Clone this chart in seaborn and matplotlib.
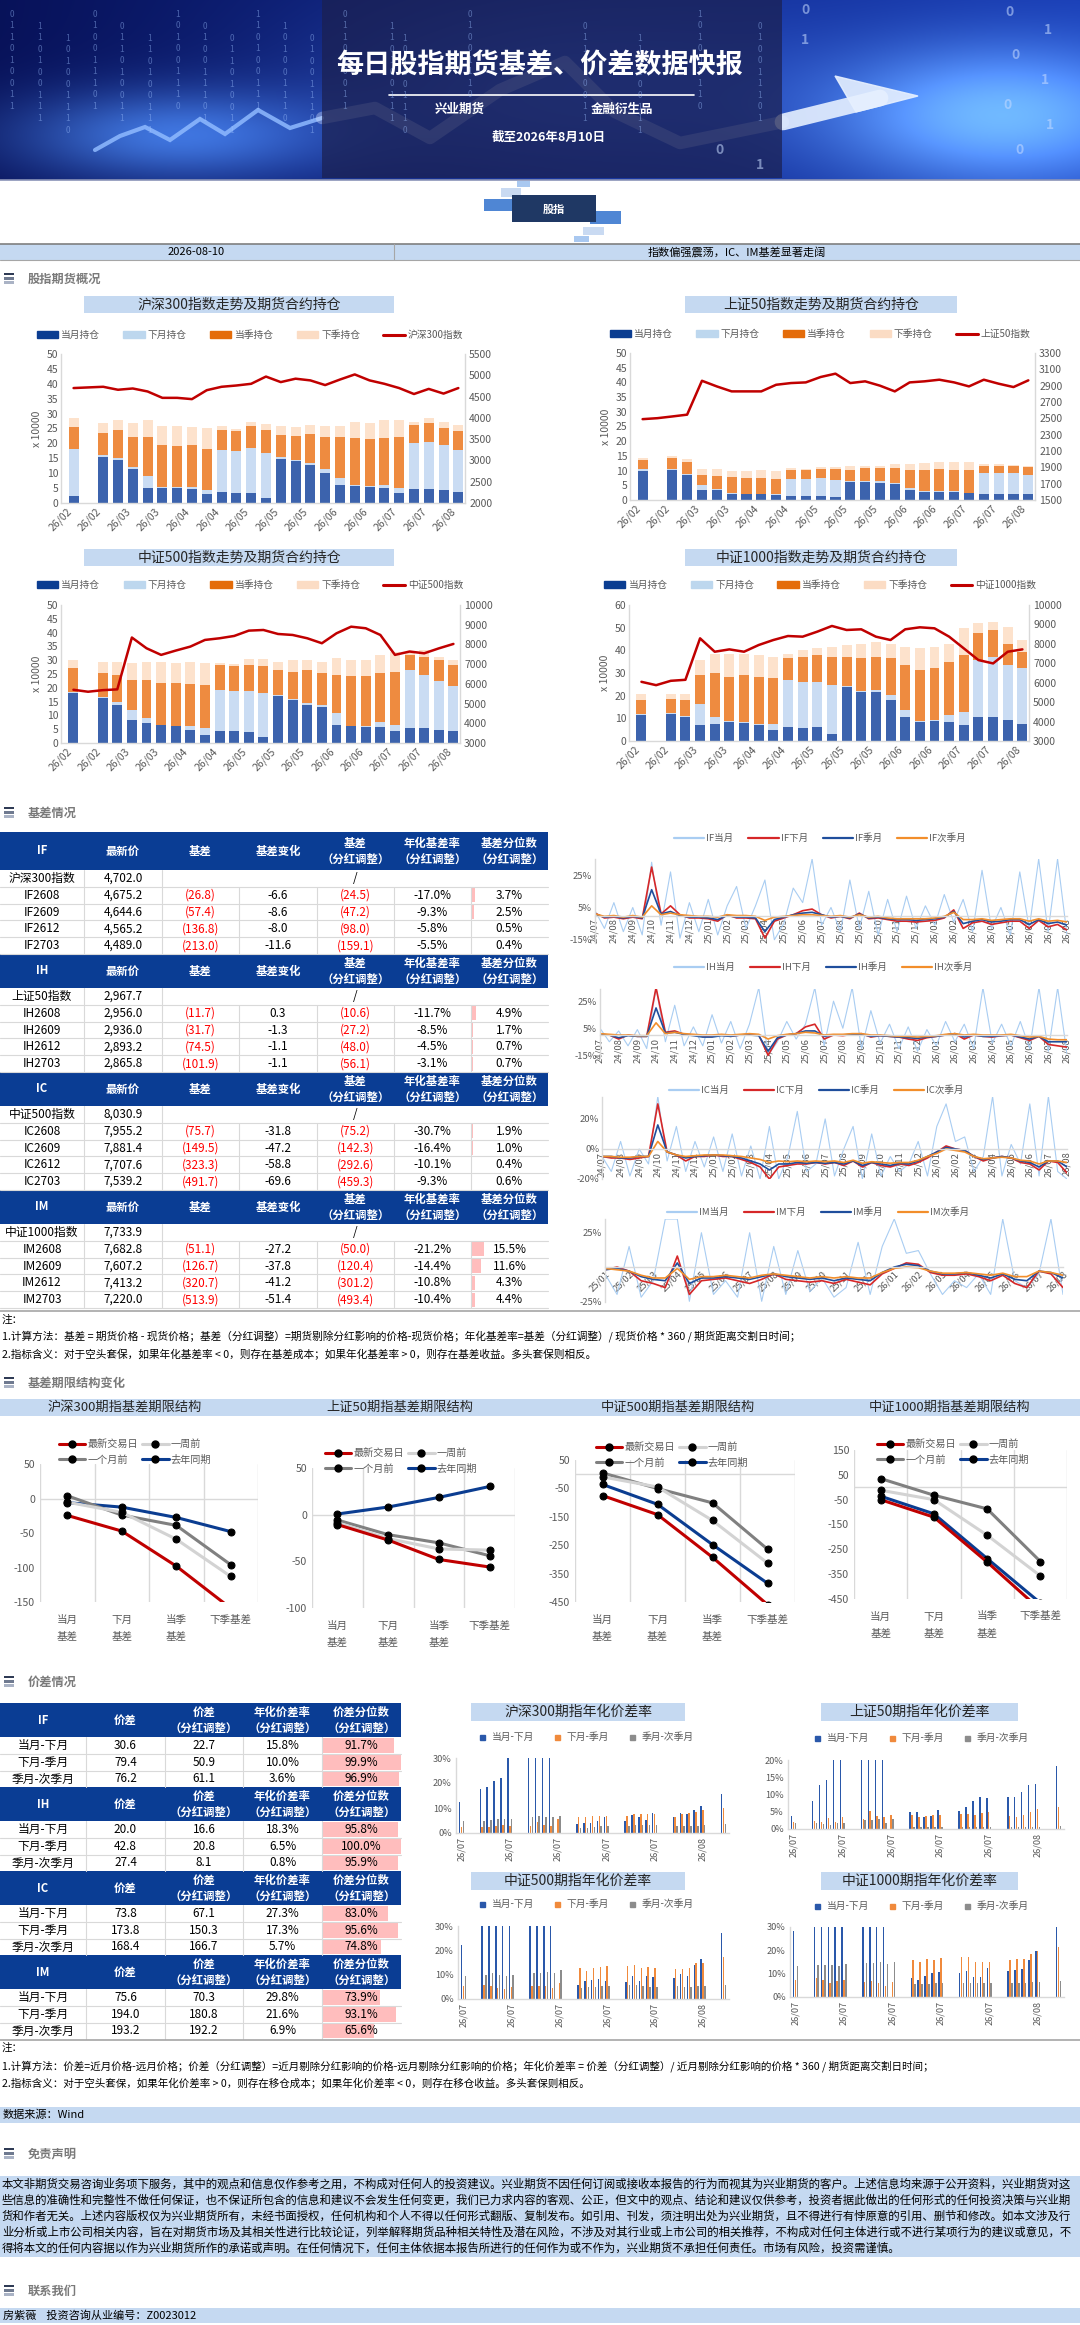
import numpy as np
import pandas as pd
import matplotlib
matplotlib.use('Agg')
import matplotlib.pyplot as plt
import seaborn as sns
from matplotlib.patches import Rectangle, Patch, Polygon
from matplotlib.lines import Line2D

sns.set_theme(style='white')
plt.rcParams['font.family'] = ['Noto Sans CJK SC', 'DejaVu Sans']
plt.rcParams['axes.unicode_minus'] = False

W, H = 1080, 2325
NAVY = '#0a3d94'
BAND = '#c5d9f1'
TXT = '#595959'
GRID = '#d9d9d9'
RED = '#c00000'
PINK = '#ffbdbd'
nan = np.nan

# ---------------- 数据 ----------------
report_date = '2026-08-10'
headline = '指数偏强震荡，IC、IM基差显著走阔'

# 持仓（万手），按周，第 1 周为春节休市
oi_ticks = ['26/02', '26/02', '26/03', '26/03', '26/04', '26/04', '26/05',
            '26/05', '26/05', '26/06', '26/06', '26/07', '26/07', '26/08']
if_cur = [2.5, nan, 15.5, 14.5, 11.5, 5.0, 5.0, 5.0, 4.7, 3.0, 3.7, 3.5, 3.3, 1.7, 14.7, 14.0, 12.8, 10.0, 6.0, 5.6, 5.4, 5.0, 3.3, 4.7, 4.8, 4.2, 3.6]
if_nxt = [15.5, nan, 0.5, 0.5, 0.5, 4.0, 0.5, 0.5, 0.6, 1.5, 14.1, 13.8, 15.1, 15.0, 0.6, 0.5, 0.7, 1.5, 2.4, 0.4, 0.4, 1.0, 1.7, 15.6, 15.8, 15.1, 14.3]
if_q = [7.5, nan, 7.5, 9.5, 10.0, 13.0, 14.0, 13.5, 14.2, 13.5, 6.7, 6.8, 7.3, 7.8, 7.6, 8.0, 9.7, 10.5, 13.9, 15.8, 15.6, 15.8, 17.0, 5.9, 6.2, 5.8, 6.1]
if_nq = [3.0, nan, 3.5, 3.5, 4.8, 6.0, 6.5, 6.7, 6.0, 7.0, 1.2, 0.7, 1.6, 2.0, 2.8, 2.9, 3.0, 4.0, 3.7, 5.5, 5.4, 5.9, 5.8, 1.1, 1.7, 2.2, 2.2]
if_idx = [4700, 4715, 4730, 4660, 4690, 4620, 4470, 4470, 4440, 4650, 4730, 4760, 4800, 4970, 4840, 4920, 4880, 4770, 4900, 5020, 4880, 4800, 4700, 4560, 4680, 4570, 4700]

ih_cur = [10.0, nan, 10.2, 8.5, 3.4, 3.4, 2.0, 1.9, 1.9, 1.6, 1.4, 1.4, 1.4, 0.9, 6.2, 6.2, 5.9, 5.5, 3.4, 2.8, 2.8, 2.6, 2.3, 2.0, 2.0, 2.0, 2.0]
ih_nxt = [0.4, nan, 0.5, 0.5, 1.6, 0.5, 0.3, 0.3, 0.3, 0.3, 5.6, 5.8, 6.0, 5.9, 0.4, 0.4, 0.4, 0.3, 0.6, 0.3, 0.3, 0.3, 0.2, 7.1, 7.3, 7.1, 6.5]
ih_q = [3.3, nan, 3.7, 4.0, 3.5, 4.1, 5.4, 5.4, 5.2, 5.1, 3.2, 3.0, 3.2, 3.8, 3.6, 4.2, 4.5, 5.0, 6.2, 7.1, 7.5, 7.3, 7.7, 2.5, 2.4, 2.5, 2.6]
ih_nq = [0.5, nan, 0.4, 0.8, 2.0, 2.5, 2.3, 2.3, 2.8, 2.7, 0.6, 0.5, 0.5, 0.5, 1.2, 0.9, 0.9, 1.5, 2.1, 2.5, 2.2, 2.6, 2.8, 0.7, 0.5, 0.3, 0.3]
ih_idx = [2490, 2502, 2523, 2545, 2960, 2891, 2830, 2830, 2830, 2911, 2932, 2940, 3006, 3047, 2932, 2953, 2900, 2830, 2940, 2953, 2973, 2940, 2891, 2973, 2924, 2883, 2965]

ic_cur = [18.0, nan, 16.3, 13.9, 8.4, 7.2, 6.4, 6.0, 4.6, 3.0, 4.3, 4.2, 3.9, 2.2, 17.1, 15.4, 13.9, 13.0, 6.6, 6.0, 5.8, 5.7, 4.2, 5.4, 5.4, 4.8, 4.2]
ic_nxt = [0.5, nan, 0.5, 0.9, 3.6, 1.8, 0.3, 0.3, 1.4, 2.4, 15.0, 14.8, 14.8, 15.8, 0.4, 0.4, 0.5, 0.9, 4.2, 0.3, 0.3, 1.8, 2.4, 21.1, 19.3, 17.5, 16.3]
ic_q = [8.5, nan, 8.5, 9.9, 10.9, 13.9, 15.2, 15.4, 15.4, 15.7, 9.0, 9.0, 9.6, 10.0, 9.0, 10.1, 11.9, 11.4, 13.9, 17.8, 18.0, 17.8, 19.3, 5.4, 6.6, 7.8, 7.8]
ic_nq = [3.0, nan, 4.2, 4.5, 6.0, 6.6, 7.3, 7.2, 8.1, 7.8, 0.6, 0.6, 2.1, 2.4, 3.0, 4.0, 3.8, 4.2, 6.0, 6.0, 6.0, 6.6, 7.2, 1.2, 2.4, 1.2, 1.8]
ic_idx = [5700, 5600, 5680, 5720, 8350, 7806, 7469, 7688, 7890, 8228, 8312, 8430, 8700, 8733, 8530, 8480, 8312, 8060, 8565, 8900, 8820, 8480, 7470, 7640, 7550, 7800, 8025]

im_cur = [11.4, nan, 11.8, 10.6, 6.9, 7.7, 8.4, 8.0, 6.9, 4.7, 6.2, 5.9, 6.2, 3.2, 23.9, 21.7, 21.7, 18.0, 10.6, 8.4, 8.8, 8.4, 6.9, 10.6, 10.6, 9.4, 7.7]
im_nxt = [0.4, nan, 0.4, 0.4, 9.6, 2.9, 0.4, 0.4, 0.8, 3.0, 20.6, 20.2, 19.9, 21.4, 0.4, 0.4, 0.7, 2.2, 3.0, 0.4, 0.5, 3.0, 5.9, 25.1, 26.6, 24.1, 24.3]
im_q = [6.2, nan, 6.5, 7.0, 12.5, 19.2, 19.5, 20.6, 20.6, 19.9, 9.6, 11.1, 11.8, 12.6, 12.9, 14.3, 14.8, 16.2, 19.9, 22.5, 22.7, 23.6, 25.1, 11.8, 11.8, 9.5, 7.4]
im_nq = [2.9, nan, 2.2, 2.9, 6.7, 8.8, 10.3, 9.6, 9.6, 9.6, 2.2, 2.9, 3.0, 4.4, 5.1, 6.6, 6.6, 6.6, 8.1, 9.6, 9.6, 8.0, 11.8, 4.4, 3.7, 7.4, 5.1]
im_idx = [6046, 5874, 6098, 6150, 8284, 7595, 7716, 7595, 7940, 8198, 8404, 8370, 8628, 8921, 8714, 8749, 8370, 8198, 8749, 8852, 8800, 8370, 7768, 7165, 6993, 7595, 7716]

# 基差表
if_names = ['IF2608', 'IF2609', 'IF2612', 'IF2703']
if_spot = 4702.0
if_price = [4675.2, 4644.6, 4565.2, 4489.0]
if_basis = [-26.8, -57.4, -136.8, -213.0]
if_chg = [-6.6, -8.6, -8.0, -11.6]
if_adj = [-24.5, -47.2, -98.0, -159.1]
if_ann = [-17.0, -9.3, -5.8, -5.5]
if_pct = [3.7, 2.5, 0.5, 0.4]

ih_names = ['IH2608', 'IH2609', 'IH2612', 'IH2703']
ih_spot = 2967.7
ih_price = [2956.0, 2936.0, 2893.2, 2865.8]
ih_basis = [-11.7, -31.7, -74.5, -101.9]
ih_chg = [0.3, -1.3, -1.1, -1.1]
ih_adj = [-10.6, -27.2, -48.0, -56.1]
ih_ann = [-11.7, -8.5, -4.5, -3.1]
ih_pct = [4.9, 1.7, 0.7, 0.7]

ic_names = ['IC2608', 'IC2609', 'IC2612', 'IC2703']
ic_spot = 8030.9
ic_price = [7955.2, 7881.4, 7707.6, 7539.2]
ic_basis = [-75.7, -149.5, -323.3, -491.7]
ic_chg = [-31.8, -47.2, -58.8, -69.6]
ic_adj = [-75.2, -142.3, -292.6, -459.3]
ic_ann = [-30.7, -16.4, -10.1, -9.3]
ic_pct = [1.9, 1.0, 0.4, 0.6]

im_names = ['IM2608', 'IM2609', 'IM2612', 'IM2703']
im_spot = 7733.9
im_price = [7682.8, 7607.2, 7413.2, 7220.0]
im_basis = [-51.1, -126.7, -320.7, -513.9]
im_chg = [-27.2, -37.8, -41.2, -51.4]
im_adj = [-50.0, -120.4, -301.2, -493.4]
im_ann = [-21.2, -14.4, -10.8, -10.4]
im_pct = [15.5, 11.6, 4.3, 4.4]

# 年化基差率（%），半月一个点
months_2407 = ['24/07', '24/08', '24/09', '24/10', '24/11', '24/12', '25/01', '25/02', '25/03',
               '25/04', '25/05', '25/06', '25/07', '25/08', '25/09', '25/10', '25/11', '25/12',
               '26/01', '26/02', '26/03', '26/04', '26/05', '26/06', '26/07', '26/08']
months_2501 = months_2407[6:]
if_r_cur = [3, -8, 8, -10, 5, -12, 33, -6, 27, -14, 8, -10, 10, -12, 6, 18, -8, 6, 22, -15, -5, 17, 8, 35, -6, 5, -10, 22, -8, 15, -12, 10, -10, 12, -8, 6, -6, 13, -4, 10, -10, 28, -8, 5, -12, 27, -8, 35, -10, 35, -12]
if_r_nxt = [1.5, -1.5, -1, -2, -1, -2, 30, 1, 6, 0.5, -1.5, -1.5, -2, -3.5, 0.5, -1.5, -1.5, -2, -14, -3.5, -1.5, 0.5, 3, 4, 0.5, -1.5, -0.5, -2, 1.5, -2, -1.5, -2.5, -3.5, -3.5, -4, -3.5, -3, -1.5, 3.5, -8, -4.5, -3.5, -5.5, -4.5, -3.5, -3.5, -8, -3, -7, -5.5, -9]
if_r_q = [1, -1, -0.5, -1.5, -0.5, -1.5, 16, 1, 2.5, 0, -1, -1, -1.5, -2.5, 0, -1, -1, -1.5, -10, -2.5, -1, 0.5, 1.5, 2, 0.5, -1, -0.5, -1.5, 1, -1.5, -1, -2, -2.5, -2.5, -3, -2.5, -2, -1, 2.5, -5, -3.5, -2.5, -4, -3.5, -2.5, -2.5, -5.5, -2.5, -5, -4, -6]
if_r_nq = [1, -0.5, 0, -1, 0, -1, 6, 0.5, 1.5, 0.5, 0, -0.5, -0.5, -1, 0.5, 0, 0, -0.5, -3, -1, -0.5, 0, 0.5, 0.5, 0, -0.5, 0, -1, 0.5, -1, -0.5, -1.5, -2, -2, -2, -2, -1.5, -0.5, 2, -2.5, -2.5, -2, -3, -2.5, -2, -2, -3.5, -2, -3.5, -3, -4]

ih_r_cur = [5, -5, 3, -8, 4, -10, 35, -5, 22, -8, 6, -8, 15, -6, 10, -10, 8, 35, -15, -5, 10, -3, 8, 35, -8, 25, 5, 35, -10, 18, -6, 8, -10, 6, -12, 4, -8, 10, -5, 8, -10, 35, -6, 8, -8, 10, -10, 35, -12, 35, -14]
ih_r_nxt = [0, 0, -3, 0, -1, -1, 35, 2, 3, 0.5, 0, -1, -1, 0, -1, 0, 0.5, 0, -15, -3, 0, 1, 6, 8, -3, 0, -0.5, 0.5, 1, -1.5, -0.5, -1, -1.5, -3, -4, -2, -1, 0, 1, -3, 0, -1, -1.5, -0.5, 0, -2, -4, -1, -7, -8, -9]
ih_r_q = [0.5, 0, -2, -0.5, -1, -1, 20, 1.5, 2, 0.5, -0.5, -1.5, -1.5, -0.5, -1, 0, 0, -0.5, -12, -2, 0, 1, 3, 3, -1, 0, 0, 0.5, 0.5, -1, -0.5, -1, -1.5, -2, -2.5, -1.5, -1, 0, 1, -1.5, 0, -1, -1, -0.5, 0, -1.5, -3, -1, -5, -5, -5]
ih_r_nq = [1, 0.5, 0, 0, -0.5, -0.5, 9, 1, 2, 1, 0.5, 0, 0, 0.5, 0, 0.5, 1, 0.5, -3, -0.5, 0.5, 1, 2, 1.5, 0, 0.5, 0.5, 1, 1, 0, 0, -0.5, -1, -1, -1.5, -1, -0.5, 0.5, 1, 0, 0.5, 0, 0, 0, 0.5, -0.5, -1.5, -1, -3, -3.5, -3.5]

ic_r_cur = [-5, -15, 5, -18, 0, -10, 35, -8, 15, -15, 5, -12, 8, -15, 10, -18, 2, -20, 15, -20, -5, 25, -15, -10, 20, -18, 0, 15, -20, 10, -18, -5, -15, -10, 5, -18, 15, 30, 5, 8, -15, -5, 35, -18, 3, -10, 30, -18, 35, -15, -20]
ic_r_nxt = [-5, -6, -6, -7, -6, -5, 30, -2, -4, -8, -5, -5, -4, -5, -5, -7, -9, -12, -20, -12, -11, -10, -10, -9, -10, -9, -11, -8, -12, -9, -11, -12, -10, -11, -9, -6, -2, 2, 0, -1, -5, -8, -6, -5, -6, -9, -10, -14, -8, -9, -16]
ic_r_q = [-5, -5, -6, -6, -5, -5, 16, -2, -4, -6, -5, -4.5, -4, -4.5, -5, -6, -8, -10, -14, -10, -10, -9, -9.5, -9, -9.5, -9, -10, -8, -11, -9, -10, -11, -9.5, -10, -8, -5, -2, 1, 0, -1, -5, -7, -6, -5, -6, -8, -9, -12, -8, -8, -12]
ic_r_nq = [-5, -5, -5.5, -5.5, -5, -5, 5, -2, -4, -5, -4.5, -4, -4, -4, -4.5, -5, -6, -7, -9, -8, -8.5, -8, -8.5, -8, -8.5, -8, -9, -7.5, -9.5, -8.5, -9, -9.5, -9, -9, -7.5, -5, -3, 0, -1, -2, -5, -6.5, -6, -5.5, -6, -7.5, -8, -10, -8, -8, -9]

im_r_cur = [-5, -20, 15, -22, -10, 35, 35, -25, 25, -20, -10, -22, 25, -25, 15, -20, 12, -18, -8, -22, -15, 18, -20, 15, 35, 10, 12, -5, -20, -10, -15, -5, -20, 35, -10, -15, -5, 35, -20]
im_r_nxt = [-2, 0, -3, -10, -12, -15, 8, -20, -10, -9, -8, -10, -12, -9, -5, -9, -10, -11, -10, -12, -9, -11, -13, -5, -1, 3, 2, -4, -6, -6, -5, -7, -10, -6, -12, -15, -3, -5, -15]
im_r_q = [-2, -1, -3, -7, -9, -10, 3, -12, -8, -8, -7, -8, -9, -7, -5, -7, -8, -9, -8, -10, -8, -9, -10, -4, 0, 2, 1, -3, -5, -5, -4, -6, -8, -5, -9, -10, -3, -4, -8]
im_r_nq = [-1, -2, -3, -6, -8, -8, -1, -9, -7, -7, -6, -7, -8, -6, -5, -6, -7, -8, -7, -8, -7, -8, -8, -4, -1, 0, -0.5, -3, -4.5, -4.5, -4, -5, -6, -4.5, -7, -7, -3, -4, -6]

# 基差期限结构
ts_cats = ['当月\n基差', '下月\n基差', '当季\n基差', '下季基差']
ts_names = ['最新交易日', '一周前', '一个月前', '去年同期']
ts_if = [[-24.5, -47.2, -98.0, -159.1], [-5.3, -20, -59, -113], [4, -24, -39, -96], [-6, -12.5, -27.5, -48]]
ts_ih = [[-10.6, -27.2, -48.0, -56.1], [-8.5, -25.6, -36.7, -38], [-5.7, -21.4, -30.2, -44], [0.7, 8.2, 18.5, 30.2]]
ts_ic = [[-75.2, -142.3, -292.6, -459.3], [-9.4, -45, -163, -313], [4.7, -50.5, -101, -264], [-36, -106, -248, -384]]
ts_im = [[-50.0, -120.4, -301.2, -493.4], [-12, -50, -193, -357], [35, -32, -87, -299], [-36, -107, -287, -466]]

# 价差表
sp_rows = ['当月-下月', '下月-季月', '季月-次季月']
if_sp = [30.6, 79.4, 76.2]; if_sp_adj = [22.7, 50.9, 61.1]; if_sp_ann = [15.8, 10.0, 3.6]; if_sp_pct = [91.7, 99.9, 96.9]
ih_sp = [20.0, 42.8, 27.4]; ih_sp_adj = [16.6, 20.8, 8.1]; ih_sp_ann = [18.3, 6.5, 0.8]; ih_sp_pct = [95.8, 100.0, 95.9]
ic_sp = [73.8, 173.8, 168.4]; ic_sp_adj = [67.1, 150.3, 166.7]; ic_sp_ann = [27.3, 17.3, 5.7]; ic_sp_pct = [83.0, 95.6, 74.8]
im_sp = [75.6, 194.0, 193.2]; im_sp_adj = [70.3, 180.8, 192.2]; im_sp_ann = [29.8, 21.6, 6.9]; im_sp_pct = [73.9, 93.1, 65.6]

# 年化价差率（%），日度
sp_dates = pd.bdate_range('2026-07-03', '2026-08-10')
sp_tick_dates = pd.to_datetime(['2026-07-03', '2026-07-10', '2026-07-17', '2026-07-24', '2026-07-31', '2026-08-07'])
if_cm = [12.5, 17.5, 18.5, 21.0, 22.0, 30.0, 30.0, 30.0, 30.0, 30.0, nan, 3.5, 4.0, 4.2, 5.0, 6.3, 5.0, 7.3, 6.3, 5.2, 8.0, 6.5, 8.0, 7.5, 9.2, 11.0, 15.8]
if_mq = [2.5, 2.5, 2.5, 3.0, 3.2, 3.0, 3.0, 4.5, 3.2, 3.0, 5.5, 6.3, 6.3, 6.7, 6.8, 6.8, 7.0, 7.5, 7.5, 7.8, 7.5, 6.4, 7.7, 7.9, 8.6, 9.2, 10.0]
if_qn = [5.0, 5.0, 5.3, 5.5, 5.5, 5.5, 6.3, 7.0, 6.5, 6.3, 6.8, 2.0, 2.0, 2.5, 2.8, 2.8, 3.0, 3.2, 3.2, 3.3, 3.2, 3.0, 3.0, 3.0, 3.0, 3.2, 3.6]
ih_cm = [3.8, 8.2, 12.8, 14.2, 20.0, 20.0, 20.0, 20.0, 20.0, 20.0, nan, 5.0, 5.0, 3.6, 3.8, 5.6, 5.2, 6.5, 8.2, 9.2, 9.0, 9.2, 9.4, 10.8, 12.7, 12.9, 18.3]
ih_mq = [2.0, 2.2, 2.1, 3.1, 2.0, 3.5, 2.8, 5.3, 3.7, 3.5, 4.2, 4.0, 3.5, 3.7, 4.0, 4.2, 4.3, 4.3, 4.0, 4.5, 4.8, 3.7, 3.5, 4.0, 5.0, 5.8, 6.5]
ih_qn = [1.7, 1.6, 1.5, 1.1, 1.6, 1.6, 2.6, 2.5, 2.8, 1.7, 2.9, 0.5, 0.5, 0.5, 0.6, 0.6, 0.5, 0.5, 0.5, 0.5, 0.5, 0.5, 0.5, 0.5, 0.5, 0.5, 0.8]
ic_cm = [22.0, 30.0, 30.0, 30.0, 30.0, 30.0, 30.0, 30.0, 30.0, 30.0, nan, 5.8, 7.2, 7.7, 8.2, 7.6, 7.0, 9.6, 7.2, 9.3, 8.9, 8.6, 10.4, 9.5, 14.0, 16.5, 27.3]
ic_mq = [5.2, 5.8, 5.3, 4.6, 4.2, 4.8, 5.2, 5.5, 5.2, 4.4, 6.6, 12.8, 11.6, 12.8, 13.2, 13.7, 13.6, 14.0, 12.9, 13.2, 12.8, 12.4, 12.4, 12.6, 14.8, 14.8, 17.3]
ic_qn = [9.6, 10.0, 10.5, 10.0, 9.3, 10.0, 10.5, 10.5, 11.2, 10.8, 11.8, 4.5, 4.8, 5.0, 5.3, 5.3, 5.8, 5.8, 5.3, 5.0, 5.0, 5.3, 5.0, 5.0, 5.3, 5.3, 5.7]
im_cm = [28.5, 30.0, 30.0, 30.0, 30.0, 30.0, 30.0, 30.0, 30.0, 30.0, nan, 8.0, 7.2, 9.0, 10.2, 10.8, 10.5, 11.3, 8.5, 8.5, 12.3, 11.0, 11.4, 11.8, 16.0, 19.8, 29.8]
im_mq = [7.2, 8.0, 7.2, 6.0, 7.0, 7.2, 6.4, 6.8, 6.0, 4.8, 6.4, 16.0, 15.0, 16.3, 16.0, 16.8, 17.3, 17.3, 15.0, 14.8, 15.0, 15.8, 16.3, 16.3, 18.5, 19.8, 21.6]
im_qn = [13.2, 13.6, 13.6, 13.6, 13.2, 14.0, 14.4, 14.4, 14.8, 14.3, 14.8, 5.5, 5.5, 5.5, 6.0, 6.0, 6.0, 6.0, 6.0, 6.0, 6.0, 6.0, 6.0, 6.0, 6.3, 6.3, 6.9]

basis_notes = ['注：',
               '1.计算方法：基差 = 期货价格 - 现货价格；基差（分红调整）=期货剔除分红影响的价格-现货价格；年化基差率=基差（分红调整）/ 现货价格 * 360 / 期货距离交割日时间；',
               '2.指标含义：对于空头套保，如果年化基差率 < 0，则存在基差成本；如果年化基差率 > 0，则存在基差收益。多头套保则相反。']
spread_notes = ['注：',
                '1.计算方法：价差=近月价格-远月价格；价差（分红调整）=近月剔除分红影响的价格-远月剔除分红影响的价格；年化价差率 = 价差（分红调整）/ 近月剔除分红影响的价格 * 360 / 期货距离交割日时间；',
                '2.指标含义：对于空头套保，如果年化价差率 > 0，则存在移仓成本；如果年化价差率 < 0，则存在移仓收益。多头套保则相反。']
disclaimer = [
    '本文非期货交易咨询业务项下服务，其中的观点和信息仅作参考之用，不构成对任何人的投资建议。兴业期货不因任何订阅或接收本报告的行为而视其为兴业期货的客户。上述信息均来源于公开资料，兴业期货对这',
    '些信息的准确性和完整性不做任何保证，也不保证所包含的信息和建议不会发生任何变更，我们已力求内容的客观、公正，但文中的观点、结论和建议仅供参考，投资者据此做出的任何形式的任何投资决策与兴业期',
    '货和作者无关。上述内容版权仅为兴业期货所有，未经书面授权，任何机构和个人不得以任何形式翻版、复制发布。如引用、刊发，须注明出处为兴业期货，且不得进行有悖原意的引用、删节和修改。如本文涉及行',
    '业分析或上市公司相关内容，旨在对期货市场及其相关性进行比较论证，列举解释期货品种相关特性及潜在风险，不涉及对其行业或上市公司的相关推荐，不构成对任何主体进行或不进行某项行为的建议或意见，不',
    '得将本文的任何内容据以作为兴业期货所作的承诺或声明。在任何情况下，任何主体依据本报告所进行的任何作为或不作为，兴业期货不承担任何责任。市场有风险，投资需谨慎。']
contact = '房紫薇    投资咨询从业编号：Z0023012'

# ---------------- 画布 ----------------
fig = plt.figure(figsize=(W / 100, H / 100), dpi=100)
fig.patch.set_facecolor('white')
ov = fig.add_axes([0, 0, 1, 1])
ov.axis('off')


def reset_ov():
    ov.set_xlim(0, W)
    ov.set_ylim(H, 0)


def px_axes(x0, y0, x1, y1):
    ax = fig.add_axes([x0 / W, 1 - y1 / H, (x1 - x0) / W, (y1 - y0) / H])
    ax.set_facecolor('none')
    for s in ax.spines.values():
        s.set_visible(False)
    return ax


def T(x, y, s, size=8.5, color='black', ha='center', va='center', weight='normal', **kw):
    return ov.text(x, y, s, fontsize=size, color=color, ha=ha, va=va, fontweight=weight, zorder=5, **kw)


def box(x0, y0, x1, y1, color, **kw):
    ov.add_patch(Rectangle((x0, y0), x1 - x0, y1 - y0, color=color, lw=0, **kw))


def band(x0, y0, x1, y1, text, size=10):
    box(x0, y0, x1, y1, BAND)
    T((x0 + x1) / 2, (y0 + y1) / 2, text, size=size, color='#262626')


def section(y, text):
    for k, c in enumerate(['#2f3b55', '#6f7a90', '#aab3c5']):
        box(4, y - 6.5 + k * 4.4, 14, y - 3.8 + k * 4.4, c)
    T(28, y, text, size=8.8, color='#7a7a7a', ha='left', weight='bold')


def hline(y, x0=0, x1=W, color=GRID, lw=0.8):
    ov.plot([x0, x1], [y, y], color=color, lw=lw, zorder=4)


def vline(x, y0, y1, color=GRID, lw=0.8):
    ov.plot([x, x], [y0, y1], color=color, lw=lw, zorder=4)


def gray_axes(ax, which=('left', 'bottom')):
    for s in which:
        ax.spines[s].set_visible(True)
        ax.spines[s].set_color(GRID)
        ax.spines[s].set_linewidth(1)


def place_legend(ax, handles, labels, x, y, loc='center', size=7, **kw):
    ax.legend(handles, labels, loc=loc, bbox_to_anchor=(x / W, 1 - y / H), bbox_transform=fig.transFigure,
              frameon=False, fontsize=size, labelcolor=TXT, **kw)


# ---------------- 顶部横幅 ----------------
yy, xx = np.mgrid[0:180, 0:W]
glow_r = np.exp(-(((xx - 1000) / 170.0) ** 2 + ((yy - 115) / 70.0) ** 2))
glow_l = np.exp(-(((xx - 170) / 160.0) ** 2 + ((yy - 135) / 45.0) ** 2))
glow_c = np.exp(-(((xx - 560) / 260.0) ** 2 + ((yy - 90) / 90.0) ** 2))
rr = 0.03 + 0.06 * xx / W + 0.35 * glow_r + 0.20 * glow_l + 0.10 * glow_c
gg = 0.07 + 0.16 * xx / W + 0.50 * glow_r + 0.35 * glow_l + 0.15 * glow_c
bb = 0.35 + 0.35 * xx / W + 0.45 * glow_r + 0.45 * glow_l + 0.20 * glow_c
ov.imshow(np.clip(np.dstack([rr, gg, bb]), 0, 1), extent=[0, W, 180, 0], aspect='auto', zorder=0,
          interpolation='bilinear')
reset_ov()
digit_cols = [12, 40, 68, 95, 122, 150, 178, 205, 232, 258, 285, 312, 345, 392, 405, 470, 585, 640, 700, 760]
for k, xc in enumerate(digit_cols):
    s = '\n'.join('0110100111010'[k % 4:k % 4 + 9])
    T(xc, 10 + (k % 3) * 12, s, size=6, color='#9cc0ff', va='top', alpha=0.45, linespacing=1.35)
for k, (xc, yc) in enumerate([(805, 10), (805, 40), (1010, 12), (1048, 30), (1015, 55), (1045, 80),
                              (1008, 105), (1050, 125), (1020, 150), (760, 165), (720, 150)]):
    T(xc, yc, '01'[k % 2], size=10, color='#c8dcff', alpha=0.55, style='italic', weight='bold')
zig_l = [(95, 150), (120, 136), (145, 127), (170, 140), (200, 119), (225, 134), (258, 110), (290, 128), (322, 118)]
ov.plot(*zip(*zig_l), color='#8fbaff', lw=3, alpha=0.85, zorder=1, solid_joinstyle='miter')
zig_c = [(322, 118), (375, 108), (430, 138), (500, 90), (565, 62), (615, 112), (680, 143), (783, 122)]
ov.plot(*zip(*zig_c), color='#dfe9ff', lw=9, alpha=0.35, zorder=1)
ov.plot([783, 860, 880], [122, 103, 98], color='#e6f0ff', lw=12, alpha=0.9, zorder=1)
ov.add_patch(Polygon([(835, 76), (918, 96), (856, 112)], closed=True, color='#e6f0ff', alpha=0.9, zorder=1))
box(322, 0, 782, 178, '#1b2050', alpha=0.72, zorder=2)
hline(180, color='#8a93b8', lw=1.2)
T(540, 65, '每日股指期货基差、价差数据快报', size=19.5, color='white', weight='bold')
hline(95, 389, 694, color='white', lw=1.2)
T(460, 109, '兴业期货', size=9, color='white', weight='bold')
T(622, 109, '金融衍生品', size=9, color='white', weight='bold')
T(549, 137, '截至2026年8月10日', size=9, color='white', weight='bold')

for (x0, y0, x1, y1, c) in [(517, 181, 530, 187, '#a9c8f0'), (501, 188, 521, 197, '#c9daf2'),
                            (484, 199, 515, 211, '#4f86d4'), (590, 211, 621, 224, '#4f86d4'),
                            (583, 227, 604, 235, '#c9daf2'), (574, 236, 589, 242, '#a9c8f0')]:
    box(x0, y0, x1, y1, c)
box(512, 195, 596, 222, '#1f3864')
T(554, 209, '股指', size=8, color='white', weight='bold')

box(0, 244, W, 260, BAND)
hline(244, color='#7f7f7f', lw=1.2)
hline(260, color='#a6a6a6', lw=0.8)
vline(394, 244, 260, color='#a6a6a6')
T(196, 252, report_date, size=8)
T(737, 252, headline, size=8)

# ---------------- 股指期货概况 ----------------
section(279, '股指期货概况')

OI_BAR = ['#3c63ad', '#cadcf3', '#ee8b40', '#fde2cc']
OI_LEG = ['#0b3d91', '#bdd7ee', '#e46c0a', '#fbdcc4']


def oi_chart(rect, cur, nxt, q, nq, idx, idx_label, lmax, lstep, rlim, rstep, leg_xy):
    ax = px_axes(*rect)
    xs = np.arange(len(cur))
    cur, nxt, q, nq = (np.array(v, float) for v in (cur, nxt, q, nq))
    ax.bar(xs, cur, 0.68, color=OI_BAR[0], lw=0)
    ax.bar(xs, nxt, 0.68, bottom=cur, color=OI_BAR[1], lw=0)
    ax.bar(xs, q, 0.68, bottom=cur + nxt, color=OI_BAR[2], lw=0)
    ax.bar(xs, nq, 0.68, bottom=cur + nxt + q, color=OI_BAR[3], lw=0)
    ax.set_ylim(0, lmax)
    ax.set_yticks(np.arange(0, lmax + 1, lstep))
    ax.set_ylabel('x 10000', fontsize=7.5, color=TXT, labelpad=3)
    gray_axes(ax, ('left', 'bottom'))
    ax.tick_params(length=0, labelsize=7.5, labelcolor=TXT, pad=2)
    ax2 = ax.twinx()
    ax2.set_facecolor('none')
    for s in ax2.spines.values():
        s.set_visible(False)
    sns.lineplot(x=xs, y=idx, ax=ax2, color=RED, lw=1.8, estimator=None, legend=False)
    ax2.set_ylim(*rlim)
    ax2.set_yticks(np.arange(rlim[0], rlim[1] + 1, rstep))
    ax2.set_xlabel('')
    ax2.set_ylabel('')
    gray_axes(ax2, ('right',))
    ax2.tick_params(length=0, labelsize=7.5, labelcolor=TXT, pad=3)
    ax.set_xlim(-0.85, len(xs) - 0.55)
    ax.set_xticks(np.arange(-0.5, len(xs) - 1, 2))
    ax.set_xticklabels(oi_ticks, rotation=45, ha='right', rotation_mode='anchor')
    handles = [Patch(color=c) for c in OI_LEG] + [Line2D([], [], color=RED, lw=2.2)]
    labels = ['当月持仓', '下月持仓', '当季持仓', '下季持仓', idx_label]
    place_legend(ax2, handles, labels, *leg_xy, ncol=5, handlelength=2.2, handleheight=0.6,
                 columnspacing=2.4, handletextpad=0.3)


band(84, 296, 394, 313, '沪深300指数走势及期货合约持仓')
band(685, 296, 957, 313, '上证50指数走势及期货合约持仓')
band(84, 549, 394, 566, '中证500指数走势及期货合约持仓')
band(685, 549, 957, 566, '中证1000指数走势及期货合约持仓')
oi_chart((61, 354, 465, 503), if_cur, if_nxt, if_q, if_nq, if_idx, '沪深300指数', 50, 5, (2000, 5500), 500, (250, 335))
oi_chart((630, 353, 1035, 500), ih_cur, ih_nxt, ih_q, ih_nq, ih_idx, '上证50指数', 50, 5, (1500, 3300), 200, (820, 334))
oi_chart((61, 605, 460, 743), ic_cur, ic_nxt, ic_q, ic_nq, ic_idx, '中证500指数', 50, 5, (3000, 10000), 1000, (250, 585))
oi_chart((629, 605, 1029, 741), im_cur, im_nxt, im_q, im_nq, im_idx, '中证1000指数', 60, 10, (3000, 10000), 1000, (820, 585))

# ---------------- 基差情况 ----------------
section(813, '基差情况')
bcols = [0, 84, 162, 239, 317, 394, 471, 548]
RH = 16.8


def ccx(cols, j):
    return (cols[j] + cols[j + 1]) / 2


def neg(v):
    return f'({abs(v):,.1f})' if v < 0 else f'{v:,.1f}'


def basis_table(y0, hh, code, spot_name, spot, names, price, basis, chg, adj, ann, pct):
    box(0, y0, bcols[-1], y0 + hh, NAVY)
    heads = [code, '最新价', '基差', '基差变化', '基差\n（分红调整）', '年化基差率\n（分红调整）', '基差分位数\n（分红调整）']
    for j, h in enumerate(heads):
        T(ccx(bcols, j), y0 + hh / 2, h, size=8.2, color='white', weight='bold', linespacing=1.3)
    y = y0 + hh
    T(ccx(bcols, 0), y + RH / 2, spot_name)
    T(ccx(bcols, 1), y + RH / 2, f'{spot:,.1f}')
    T(ccx(bcols, 4), y + RH / 2, '/')
    hline(y + RH, 0, bcols[-1])
    for r in range(4):
        yr = y + RH * (r + 1)
        w = pct[r] / 100 * (bcols[7] - bcols[6] - 2)
        box(bcols[6] + 1, yr + 1.5, bcols[6] + 1 + w, yr + RH - 1.5, PINK)
        T(ccx(bcols, 0), yr + RH / 2, names[r])
        T(ccx(bcols, 1), yr + RH / 2, f'{price[r]:,.1f}')
        T(ccx(bcols, 2), yr + RH / 2, neg(basis[r]), color='#ff0000' if basis[r] < 0 else 'black')
        T(ccx(bcols, 3), yr + RH / 2, f'{chg[r]:.1f}')
        T(ccx(bcols, 4), yr + RH / 2, neg(adj[r]), color='#ff0000' if adj[r] < 0 else 'black')
        T(ccx(bcols, 5), yr + RH / 2, f'{ann[r]:.1f}%')
        T(ccx(bcols, 6), yr + RH / 2, f'{pct[r]:.1f}%')
        hline(yr + RH, 0, bcols[-1])
    for j in (1, 2):
        vline(bcols[j], y, y + 5 * RH)
    for j in (3, 4, 5, 6):
        vline(bcols[j], y + RH, y + 5 * RH)


basis_table(832, 38, 'IF', '沪深300指数', if_spot, if_names, if_price, if_basis, if_chg, if_adj, if_ann, if_pct)
basis_table(954, 34, 'IH', '上证50指数', ih_spot, ih_names, ih_price, ih_basis, ih_chg, ih_adj, ih_ann, ih_pct)
basis_table(1072, 34, 'IC', '中证500指数', ic_spot, ic_names, ic_price, ic_basis, ic_chg, ic_adj, ic_ann, ic_pct)
basis_table(1190, 34, 'IM', '中证1000指数', im_spot, im_names, im_price, im_basis, im_chg, im_adj, im_ann, im_pct)
hline(1311, color='#a6a6a6', lw=1.2)
for k, (s, yv) in enumerate(zip(basis_notes, [1320, 1337, 1354])):
    T(2, yv, s, size=7.7, ha='left')

R_COLS = ['#a9cdf2', '#d62728', '#1f4e9c', '#f28e2b']
R_LW = [0.8, 1.2, 1.2, 1.2]


def basis_chart(rect, code, labels, series, ylim, yticks, rot, leg_xy):
    ax = px_axes(*rect)
    xs = np.arange(len(series[0]))
    for vals, c, lw in zip(series, R_COLS, R_LW):
        sns.lineplot(x=xs, y=vals, ax=ax, color=c, lw=lw, estimator=None, legend=False)
    ax.set_xlim(0, len(xs) - 1)
    ax.set_ylim(*ylim)
    ax.set_xlabel('')
    ax.set_ylabel('')
    gray_axes(ax, ('left', 'bottom'))
    ax.spines['bottom'].set_position(('data', 0))
    ax.set_yticks(yticks)
    ax.set_yticklabels([f'{t}%' for t in yticks])
    ax.set_xticks(xs[::2])
    if rot == 90:
        ax.set_xticklabels(labels, rotation=90, ha='center', va='top')
    else:
        ax.set_xticklabels(labels, rotation=rot, ha='right', rotation_mode='anchor')
    ax.tick_params(length=0, labelsize=6.8, labelcolor=TXT, pad=2)
    handles = [Line2D([], [], color=c, lw=1.6) for c in R_COLS]
    names = [f'{code}当月', f'{code}下月', f'{code}季月', f'{code}次季月']
    place_legend(ax, handles, names, *leg_xy, size=6.8, ncol=4, handlelength=3.2, columnspacing=1.6,
                 handletextpad=0.2)


basis_chart((595, 859, 1067, 943), 'IF', months_2407, [if_r_cur, if_r_nxt, if_r_q, if_r_nq], (-17, 35), [-15, 5, 25], 90, (820, 838))
basis_chart((600, 989, 1067, 1058), 'IH', months_2407, [ih_r_cur, ih_r_nxt, ih_r_q, ih_r_nq], (-17, 34), [-15, 5, 25], 90, (823, 967))
basis_chart((602, 1097, 1067, 1179), 'IC', months_2407, [ic_r_cur, ic_r_nxt, ic_r_q, ic_r_nq], (-20, 34.6), [-20, 0, 20], 90, (816, 1090))
basis_chart((605, 1219, 1063, 1302), 'IM', months_2501, [im_r_cur, im_r_nxt, im_r_q, im_r_nq], (-25.5, 35), [-25, 25], 45, (818, 1212))

# ---------------- 基差期限结构变化 ----------------
section(1383, '基差期限结构变化')
box(0, 1399, W, 1416, BAND)
for xc, s in [(125, '沪深300期指基差期限结构'), (400, '上证50期指基差期限结构'),
              (678, '中证500期指基差期限结构'), (950, '中证1000期指基差期限结构')]:
    T(xc, 1407.5, s, size=9.5, color='#262626')

TS_COLS = [RED, '#d3d3d3', '#808080', '#0b3d91']
TS_LEG_ORDER = [0, 2, 1, 3]   # 两列图例按行排：最新交易日 一周前 / 一个月前 去年同期


def term_chart(rect, series, ylim, yticks, leg_xy):
    ax = px_axes(*rect)
    cats = np.arange(4)
    for k in (3, 2, 1, 0):
        sns.lineplot(x=cats, y=series[k], ax=ax, color=TS_COLS[k], lw=2.2, marker='o', markersize=5,
                     markerfacecolor='black', markeredgecolor='black', estimator=None, legend=False)
    ax.set_xlim(-0.5, 3.5)
    ax.set_ylim(*ylim)
    ax.set_yticks(yticks)
    ax.set_xlabel('')
    ax.set_ylabel('')
    ax.axhline(0, color=GRID, lw=1, zorder=0)
    for b in np.arange(-0.5, 4, 1):
        ax.axvline(b, color=GRID, lw=1, zorder=0)
    ax.set_xticks(cats)
    ax.set_xticklabels(ts_cats, linespacing=1.9, va='top')
    ax.tick_params(length=0, labelsize=7.6, labelcolor=TXT)
    ax.tick_params(axis='x', pad=9)
    handles = [Line2D([], [], color=TS_COLS[k], lw=2.2, marker='o', markersize=5, markerfacecolor='black',
                      markeredgecolor='black') for k in TS_LEG_ORDER]
    labels = [ts_names[k] for k in TS_LEG_ORDER]
    place_legend(ax, handles, labels, *leg_xy, loc='upper left', size=7.3, ncol=2, handlelength=2.6,
                 columnspacing=0.4, handletextpad=0.2, labelspacing=0.55)


term_chart((40, 1464, 258, 1602), ts_if, (-150, 50), [50, 0, -50, -100, -150], (50, 1430))
term_chart((312, 1468, 515, 1608), ts_ih, (-100, 50), [50, 0, -50, -100], (316, 1439))
term_chart((575, 1460, 795, 1602), ts_ic, (-450, 50), [50, -50, -150, -250, -350, -450], (587, 1433))
term_chart((854, 1450, 1067, 1599), ts_im, (-450, 150), [150, 50, -50, -150, -250, -350, -450], (868, 1430))

# ---------------- 价差情况 ----------------
section(1682, '价差情况')
scols = [0, 86, 165, 243, 322, 401]


def spread_table(y0, code, sp, adj, ann, pct):
    hh = 34
    box(0, y0, scols[-1], y0 + hh, NAVY)
    heads = [code, '价差', '价差\n（分红调整）', '年化价差率\n（分红调整）', '价差分位数\n（分红调整）']
    for j, h in enumerate(heads):
        T(ccx(scols, j), y0 + hh / 2, h, size=8.2, color='white', weight='bold', linespacing=1.3)
    y = y0 + hh
    for r in range(3):
        yr = y + RH * r
        w = pct[r] / 100 * (scols[5] - scols[4])
        box(scols[4], yr + 1, scols[4] + w, yr + RH - 1, PINK)
        T(ccx(scols, 0), yr + RH / 2, sp_rows[r])
        T(ccx(scols, 1), yr + RH / 2, f'{sp[r]:.1f}')
        T(ccx(scols, 2), yr + RH / 2, f'{adj[r]:.1f}')
        T(ccx(scols, 3), yr + RH / 2, f'{ann[r]:.1f}%')
        T(ccx(scols, 4), yr + RH / 2, f'{pct[r]:.1f}%')
        if r < 2:
            hline(yr + RH, 0, scols[-1])
    for j in (1, 2, 3, 4):
        vline(scols[j], y, y + 3 * RH)


spread_table(1703, 'IF', if_sp, if_sp_adj, if_sp_ann, if_sp_pct)
spread_table(1787, 'IH', ih_sp, ih_sp_adj, ih_sp_ann, ih_sp_pct)
spread_table(1871, 'IC', ic_sp, ic_sp_adj, ic_sp_ann, ic_sp_pct)
spread_table(1955, 'IM', im_sp, im_sp_adj, im_sp_ann, im_sp_pct)

SP_COLS = ['#2a58aa', '#f08a3c', '#8c8c8c']
sp_day = np.asarray((sp_dates - sp_dates[0]).days, float)
sp_tick_day = np.asarray((sp_tick_dates - sp_dates[0]).days, float)
sp_tick_lab = [d.strftime('%y/%m') for d in sp_tick_dates]


def spread_chart(rect, cm, mq, qn, ymax, step, leg_xy):
    ax = px_axes(*rect)
    ax.bar(sp_day - 0.27, cm, 0.22, color=SP_COLS[0], lw=0)
    ax.bar(sp_day, mq, 0.22, color=SP_COLS[1], lw=0)
    ax.bar(sp_day + 0.27, qn, 0.22, color=SP_COLS[2], lw=0)
    ax.set_xlim(-0.8, sp_day[-1] + 0.8)
    ax.set_ylim(0, ymax)
    yt = np.arange(0, ymax + 0.1, step)
    ax.set_yticks(yt)
    ax.set_yticklabels([f'{t:.0f}%' for t in yt])
    ax.set_xticks(sp_tick_day)
    ax.set_xticklabels(sp_tick_lab, rotation=90, ha='center', va='top')
    gray_axes(ax, ('left', 'bottom'))
    ax.tick_params(length=0, labelsize=6.6, labelcolor=TXT, pad=3)
    handles = [Line2D([], [], marker='s', ls='', color=c, markersize=3.6) for c in SP_COLS]
    place_legend(ax, handles, ['当月-下月', '下月-季月', '季月-次季月'], *leg_xy, size=7, ncol=3,
                 handletextpad=0.05, columnspacing=1.3)


band(471, 1703, 685, 1721, '沪深300期指年化价差率')
band(821, 1703, 1018, 1721, '上证50期指年化价差率')
band(471, 1872, 685, 1890, '中证500期指年化价差率')
band(821, 1872, 1018, 1890, '中证1000期指年化价差率')
spread_chart((456, 1758, 729, 1833), if_cm, if_mq, if_qn, 30, 10, (583, 1737))
spread_chart((788, 1760, 1064, 1829), ih_cm, ih_mq, ih_qn, 20, 5, (918, 1738))
spread_chart((458, 1926, 729, 1999), ic_cm, ic_mq, ic_qn, 30, 10, (583, 1904))
spread_chart((790, 1927, 1064, 1997), im_cm, im_mq, im_qn, 30, 10, (918, 1906))

hline(2040, color='#a6a6a6', lw=1.2)
for s, yv in zip(spread_notes, [2049, 2066, 2084]):
    T(2, yv, s, size=7.6, ha='left')

# ---------------- 底部 ----------------
box(0, 2107, W, 2123, BAND)
T(3, 2115, '数据来源：Wind', size=8, ha='left')
section(2154, '免责声明')
box(0, 2176, W, 2257, BAND)
for k, line in enumerate(disclaimer):
    T(2, 2184 + 16 * k, line, size=8.2, ha='left')
section(2291, '联系我们')
box(0, 2308, W, 2323, BAND)
T(3, 2315.5, contact, size=8, ha='left')

reset_ov()
fig.savefig('out.png', dpi=100, facecolor='white')
